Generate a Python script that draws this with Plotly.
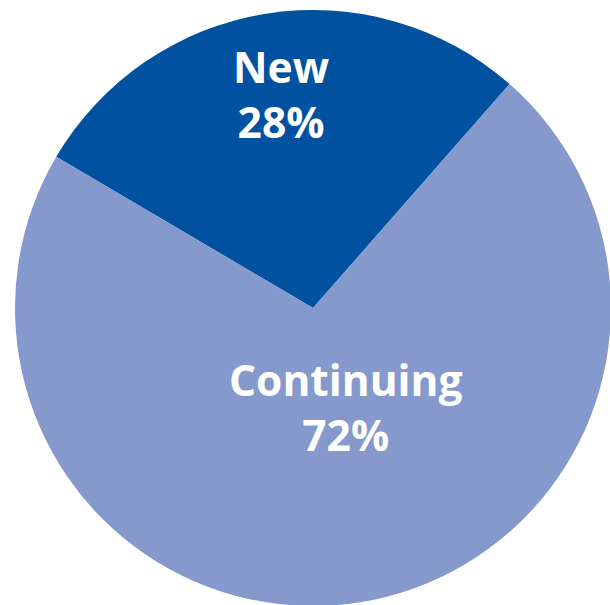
import plotly.graph_objects as go

# Enrolment split
labels = ["New", "Continuing"]
shares = [28, 72]
colors = ["#0052A1", "#8599CC"]

FIG_W, FIG_H = 620, 615

fig = go.Figure(
    go.Pie(
        labels=labels,
        values=shares,
        sort=False,
        direction="clockwise",
        rotation=-59.5,
        marker=dict(colors=colors, line=dict(width=0)),
        textinfo="none",
        hoverinfo="label+percent",
        showlegend=False,
    )
)

# Slice labels: name on the first line, share on the second
label_pos = {"New": (277, 87), "Continuing": (344, 410)}
for name, val in zip(labels, shares):
    px, py = label_pos[name]
    fig.add_annotation(
        x=px / FIG_W,
        y=1 - py / FIG_H,
        xref="paper",
        yref="paper",
        text=f"<b>{name}</b><br><b>{val}%</b>",
        showarrow=False,
        font=dict(family="Open Sans", size=42.5, color="white"),
        xanchor="center",
        yanchor="middle",
        align="center",
    )

fig.update_layout(
    width=FIG_W,
    height=FIG_H,
    margin=dict(l=15, r=9, t=10, b=9, pad=0),
    paper_bgcolor="white",
    plot_bgcolor="white",
)

fig.write_html(
    "out.html",
    post_script="document.body.style.margin='0';document.body.style.overflow='hidden';",
)
